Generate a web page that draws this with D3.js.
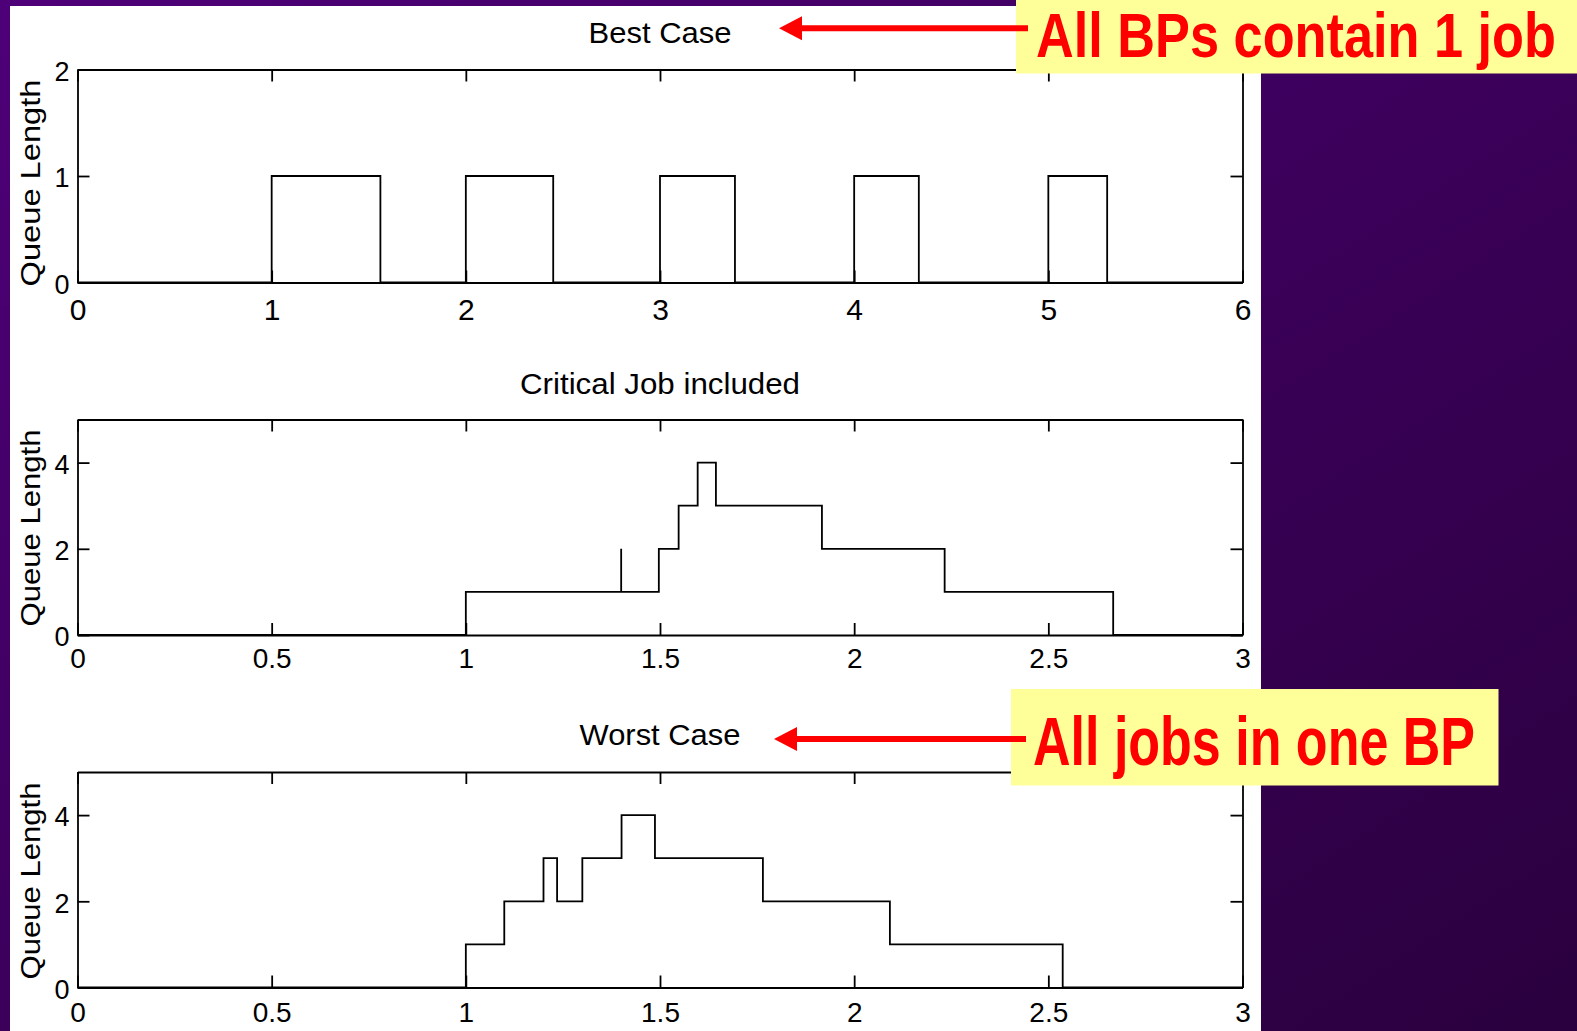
<!DOCTYPE html>
<html>
<head>
<meta charset="utf-8">
<script src="https://cdn.jsdelivr.net/npm/d3@7"></script>
<style>
  html, body { margin: 0; padding: 0; background: #3c005a; }
  svg { display: block; }
</style>
</head>
<body>
<div class="canvas"></div>
<script>
// queue length step data: change times and the value held from each time on
var bestT = [0, 1, 1.56, 2, 2.45, 3, 3.386, 4, 4.333, 5, 5.303, 6];
var bestQ = [0, 1, 0, 1, 0, 1, 0, 1, 0, 1, 0, 0];

var critT = [0, 1, 1.4, 1.4, 1.497, 1.548, 1.597, 1.644, 1.917, 2.233, 2.667, 3];
var critQ = [0, 1, 2, 1, 2, 3, 4, 3, 2, 1, 0, 0];

var worstT = [0, 1, 1.099, 1.2, 1.235, 1.3, 1.401, 1.487, 1.765, 2.092, 2.537, 3];
var worstQ = [0, 1, 2, 3, 2, 3, 4, 3, 2, 1, 0, 0];

var bestXTicks = [0, 1, 2, 3, 4, 5, 6];
var halfXTicks = [0, 0.5, 1, 1.5, 2, 2.5, 3];
var bestYTicks = [0, 1, 2];
var evenYTicks = [0, 2, 4];

var titles = ["Best Case", "Critical Job included", "Worst Case"];
var yLabel = "Queue Length";
var notes = ["All BPs contain 1 job", "All jobs in one BP"];

var W = 1577, H = 1031;
var tickLen = 12;
var font = "'Liberation Sans', Arial, Helvetica, sans-serif";

var svg = d3
  .select(".canvas")
  .append("svg")
  .attr("width", W)
  .attr("height", H);

// purple slide background
var grad = svg.append("defs").append("linearGradient")
  .attr("id", "bg")
  .attr("x1", "0").attr("y1", "0")
  .attr("x2", "1").attr("y2", "1");
grad.append("stop").attr("offset", "0%").attr("stop-color", "#4e0078");
grad.append("stop").attr("offset", "100%").attr("stop-color", "#2a003e");

svg.append("rect").attr("width", W).attr("height", H).attr("fill", "url(#bg)");
svg.append("rect")
  .attr("x", 10).attr("y", 6)
  .attr("width", 1251).attr("height", H - 6)
  .attr("fill", "white");

var panels = [
  { title: titles[0], t: bestT, q: bestQ, xMax: 6, yMax: 2, xTicks: bestXTicks, yTicks: bestYTicks,
    top: 69.5, bottom: 282.5, titleY: 43, titleLen: 143, labelLen: 207, labelC: 183, xPad: 16, xFont: 30 },
  { title: titles[1], t: critT, q: critQ, xMax: 3, yMax: 5, xTicks: halfXTicks, yTicks: evenYTicks,
    top: 419.5, bottom: 635, titleY: 394, titleLen: 280, labelLen: 197, labelC: 528, xPad: 13, xFont: 28 },
  { title: titles[2], t: worstT, q: worstQ, xMax: 3, yMax: 5, xTicks: halfXTicks, yTicks: evenYTicks,
    top: 772, bottom: 987.5, titleY: 745, titleLen: 161, labelLen: 197, labelC: 881, xPad: 15, xFont: 28 }
];

var left = 77.5, right = 1242.5;

panels.forEach(function (p) {
  var x = d3.scaleLinear().domain([0, p.xMax]).range([left, right]);
  var y = d3.scaleLinear().domain([0, p.yMax]).range([p.bottom, p.top]);
  var g = svg.append("g");

  function styleAxis(sel) {
    sel.selectAll("path, line").attr("stroke", "#000").attr("stroke-width", 1.8);
    sel.selectAll("text").attr("fill", "#000").attr("font-family", font);
  }

  var ax = g.append("g")
    .attr("transform", "translate(0," + p.bottom + ")")
    .call(d3.axisBottom(x).tickValues(p.xTicks).tickSize(-tickLen).tickSizeOuter(0)
      .tickPadding(p.xPad).tickFormat(d3.format("")));
  styleAxis(ax);
  ax.selectAll("text").attr("font-size", p.xFont);

  var axTop = g.append("g")
    .attr("transform", "translate(0," + p.top + ")")
    .call(d3.axisTop(x).tickValues(p.xTicks).tickSize(-tickLen).tickSizeOuter(0).tickFormat(""));
  styleAxis(axTop);

  var ay = g.append("g")
    .attr("transform", "translate(" + left + ",0)")
    .call(d3.axisLeft(y).tickValues(p.yTicks).tickSize(-tickLen).tickSizeOuter(0)
      .tickPadding(8).tickFormat(d3.format("")));
  styleAxis(ay);
  ay.selectAll("text").attr("font-size", 27).attr("dy", "0.4em");

  var ayR = g.append("g")
    .attr("transform", "translate(" + right + ",0)")
    .call(d3.axisRight(y).tickValues(p.yTicks).tickSize(-tickLen).tickSizeOuter(0).tickFormat(""));
  styleAxis(ayR);

  // step line
  var pts = p.t.map(function (d, i) { return [d, p.q[i]]; });
  g.append("path")
    .datum(pts)
    .attr("fill", "none")
    .attr("stroke", "#000")
    .attr("stroke-width", 1.8)
    .attr("d", d3.line()
      .x(function (d) { return x(d[0]); })
      .y(function (d) { return y(d[1]); })
      .curve(d3.curveStepAfter));

  g.append("text")
    .attr("x", (left + right) / 2)
    .attr("y", p.titleY)
    .attr("text-anchor", "middle")
    .attr("font-family", font)
    .attr("font-size", 29)
    .attr("textLength", p.titleLen)
    .attr("lengthAdjust", "spacingAndGlyphs")
    .text(p.title);

  g.append("text")
    .attr("transform", "translate(40," + p.labelC + ") rotate(-90)")
    .attr("text-anchor", "middle")
    .attr("font-family", font)
    .attr("font-size", 28)
    .attr("textLength", p.labelLen)
    .attr("lengthAdjust", "spacingAndGlyphs")
    .text(yLabel);
});

/* #region ---------- callouts ---------- */
// condensed bold lettering: natural width at fs, stretched vertically by sy
var callouts = [
  { text: notes[0], box: [1016, 0, 561, 73.5], tx: 1036, ty: 56.5, tl: 520, fs: 52, sy: 1.2, ay: 28.2, tip: 779, tail: 1028 },
  { text: notes[1], box: [1011, 689, 487.5, 96.5], tx: 1033, ty: 764.5, tl: 442, fs: 52, sy: 1.31, ay: 739, tip: 774, tail: 1026 }
];

callouts.forEach(function (c) {
  svg.append("rect")
    .attr("x", c.box[0]).attr("y", c.box[1])
    .attr("width", c.box[2]).attr("height", c.box[3])
    .attr("fill", "#ffff99");
  svg.append("text")
    .attr("transform", "translate(" + c.tx + "," + c.ty + ") scale(1," + c.sy + ")")
    .attr("fill", "#ff0000")
    .attr("font-family", font)
    .attr("font-weight", "bold")
    .attr("font-size", c.fs)
    .attr("textLength", c.tl)
    .attr("lengthAdjust", "spacingAndGlyphs")
    .text(c.text);
  svg.append("line")
    .attr("x1", c.tip + 18).attr("x2", c.tail)
    .attr("y1", c.ay).attr("y2", c.ay)
    .attr("stroke", "#ff0000").attr("stroke-width", 6);
  svg.append("path")
    .attr("d", "M" + c.tip + "," + c.ay + "L" + (c.tip + 23) + "," + (c.ay - 12) +
      "L" + (c.tip + 23) + "," + (c.ay + 12) + "Z")
    .attr("fill", "#ff0000");
});
/* #endregion */
</script>
</body>
</html>
